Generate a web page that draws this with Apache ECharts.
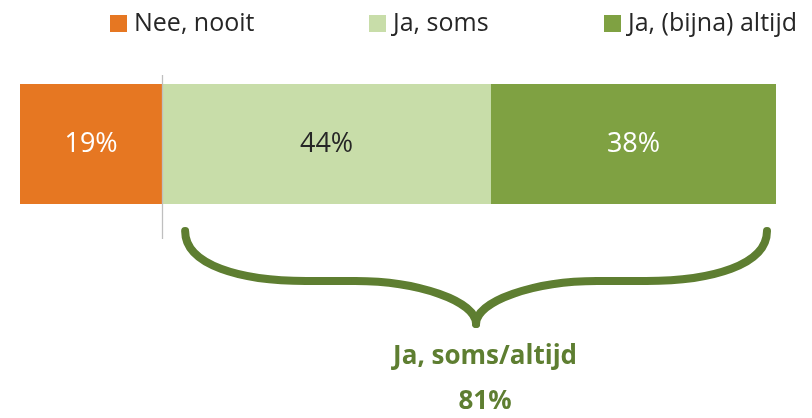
<!DOCTYPE html>
<html>
<head>
<meta charset="utf-8">
<script src="https://cdn.jsdelivr.net/npm/echarts@6/dist/echarts.min.js"></script>
<style>
  html, body { margin: 0; padding: 0; background: #fff; }
  #chart { width: 812px; height: 418px; }
</style>
</head>
<body>
<div id="chart"></div>
<script>
  // antwoorden (aandeel in %)
  var categories = ['Nee, nooit', 'Ja, soms', 'Ja, (bijna) altijd'];
  var values = [18.8, 43.5, 37.7];
  var labels = ['19%', '44%', '38%'];
  var colors = ['#E67722', '#C8DDA9', '#7FA142'];
  var labelColors = ['#ffffff', '#262626', '#ffffff'];
  var legendLeft = [110, 369, 604];
  var braceTitle = 'Ja, soms/altijd';
  var braceValue = '81%';

  var chart = echarts.init(document.getElementById('chart'));
  var total = values.reduce(function (a, b) { return a + b; }, 0);
  var font = '"Open Sans", "Noto Sans", sans-serif';
  var braceColor = '#5E7E31';

  var series = categories.map(function (name, i) {
    var s = {
      name: name,
      type: 'bar',
      stack: 'total',
      barWidth: '100%',
      itemStyle: { color: colors[i] },
      label: {
        show: true,
        position: 'inside',
        formatter: labels[i],
        color: labelColors[i],
        fontSize: 27,
        fontFamily: font
      },
      data: [values[i]]
    };
    if (i === 0) {
      // verticale as op de grens nooit / soms
      s.markLine = {
        silent: true,
        symbol: 'none',
        label: { show: false },
        lineStyle: { color: '#bfbfbf', width: 1.3, type: 'solid' },
        data: [[{ xAxis: values[0], y: 75 }, { xAxis: values[0], y: 239 }]]
      };
    }
    return s;
  });

  var legends = categories.map(function (name, i) {
    return {
      data: [name],
      left: legendLeft[i],
      top: 11,
      padding: 0,
      itemWidth: 17,
      itemHeight: 17,
      icon: 'rect',
      selectedMode: false,
      textStyle: { fontSize: 25, color: '#262626', fontFamily: font, padding: [0, 0, 0, 2] }
    };
  });

  chart.setOption({
    animation: false,
    legend: legends,
    grid: { left: 20, right: 36, top: 84, bottom: 214 },
    xAxis: { type: 'value', min: 0, max: total, show: false },
    yAxis: { type: 'category', data: ['totaal'], show: false },
    series: series
  });

  // accolade onder soms + altijd
  var xa = chart.convertToPixel({ xAxisIndex: 0 }, values[0]) + 23;
  var xb = chart.convertToPixel({ xAxisIndex: 0 }, total) - 9;
  var xm = (xa + xb) / 2;
  var yt = 231, yh = 281, yp = 324;
  var lineStyle = { fill: null, stroke: braceColor, lineWidth: 8, lineCap: 'round' };

  function curve(x1, y1, c1x, c1y, c2x, c2y, x2, y2) {
    return {
      type: 'bezierCurve',
      shape: { x1: x1, y1: y1, cpx1: c1x, cpy1: c1y, cpx2: c2x, cpy2: c2y, x2: x2, y2: y2 },
      style: lineStyle
    };
  }
  function straight(x1, y1, x2, y2) {
    return { type: 'line', shape: { x1: x1, y1: y1, x2: x2, y2: y2 }, style: lineStyle };
  }

  var brace = [
    curve(xa, yt, xa, yt + 34, xa + 55, yh, xa + 121, yh),
    straight(xa + 121, yh, xm - 121, yh),
    curve(xm - 121, yh, xm - 58, yh, xm, yh + 20, xm, yp),
    curve(xm, yp, xm, yh + 20, xm + 58, yh, xm + 121, yh),
    straight(xm + 121, yh, xb - 121, yh),
    curve(xb - 121, yh, xb - 55, yh, xb, yt + 34, xb, yt)
  ];

  chart.setOption({
    graphic: brace.concat([
      {
        type: 'text',
        x: xm + 9, y: 357,
        style: { text: braceTitle, fill: braceColor, font: 'bold 26px ' + font, align: 'center', verticalAlign: 'middle' }
      },
      {
        type: 'text',
        x: xm + 9, y: 402,
        style: { text: braceValue, fill: braceColor, font: 'bold 26px ' + font, align: 'center', verticalAlign: 'middle' }
      }
    ])
  });
</script>
</body>
</html>
